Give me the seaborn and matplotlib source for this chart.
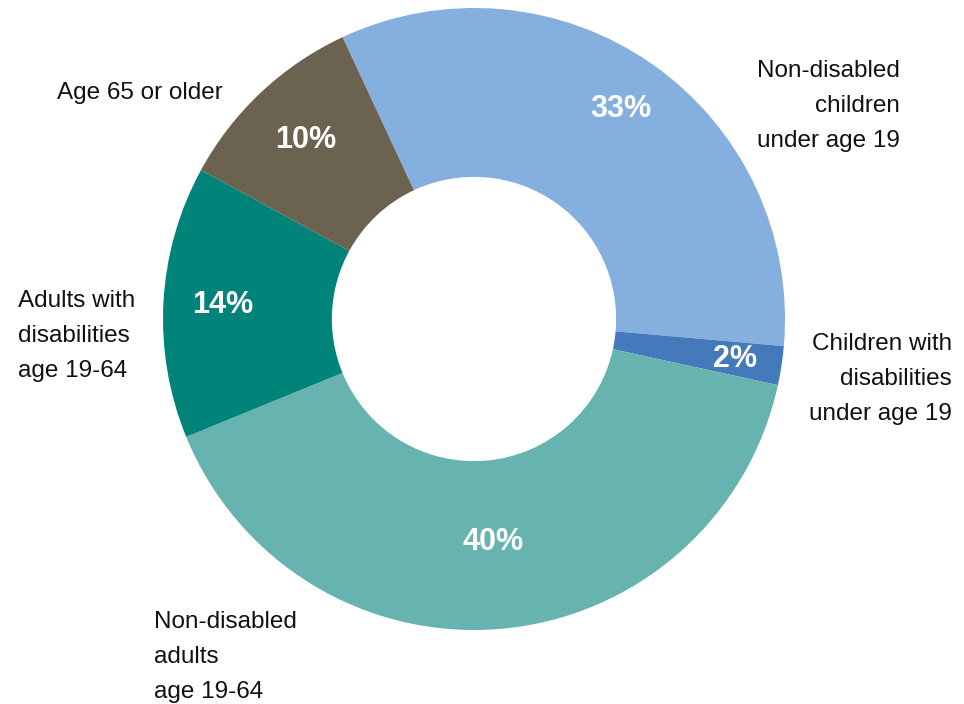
import matplotlib
matplotlib.use("Agg")
import matplotlib.pyplot as plt
from matplotlib import font_manager as fm
import seaborn as sns

# Share of enrollees by group (percent), clockwise from the top-left
groups = [
    "Non-disabled children under age 19",
    "Children with disabilities under age 19",
    "Non-disabled adults age 19-64",
    "Adults with disabilities age 19-64",
    "Age 65 or older",
]
shares = [33, 2, 40, 14, 10]
pct_labels = ["33%", "2%", "40%", "14%", "10%"]
colors = ["#84AFDE", "#4479BC", "#66B3AF", "#00847A", "#6B6250"]

# Outside captions, one list of lines per group
caption_lines = [
    ["Non-disabled", "children", "under age 19"],
    ["Children with", "disabilities", "under age 19"],
    ["Non-disabled", "adults", "age 19-64"],
    ["Adults with", "disabilities", "age 19-64"],
    ["Age 65 or older"],
]

sns.set_theme(style="white")
installed = {f.name for f in fm.fontManager.ttflist}
text_family = "Liberation Sans" if "Liberation Sans" in installed else "DejaVu Sans"
if "Liberation Sans Narrow" in installed:
    pct_family, pct_size = "Liberation Sans Narrow", 25
else:
    pct_family, pct_size = text_family, 22
plt.rcParams["font.family"] = [text_family, "DejaVu Sans"]

W, H = 964, 704
fig = plt.figure(figsize=(W / 100, H / 100), dpi=100)
fig.patch.set_facecolor("white")

# Donut centre (474, 319) px, outer radius 311 px
cx, cy, R = 474, 319, 311
ax = fig.add_axes([(cx - R) / W, (H - cy - R) / H, 2 * R / W, 2 * R / H])
wedges, _ = ax.pie(
    shares,
    colors=sns.color_palette(colors),
    startangle=115,
    counterclock=False,
    radius=1.0,
    wedgeprops=dict(width=0.543, linewidth=0),
)
ax.set_xlim(-1, 1)
ax.set_ylim(-1, 1)
ax.axis("off")

# Percent labels inside each ring segment
import numpy as np
label_radius = [0.825, 0.85, 0.72, 0.81, 0.79]
for w, lab, r in zip(wedges, pct_labels, label_radius):
    mid = np.deg2rad((w.theta1 + w.theta2) / 2)
    ax.text(r * np.cos(mid), r * np.sin(mid), lab, ha="center", va="center",
            color="white", fontsize=pct_size, fontweight="bold",
            family=[pct_family, "DejaVu Sans"])

# Captions: (x px, first baseline px, alignment)
caption_anchor = [(900, 77, "right"), (952, 350, "right"), (154, 628, "left"),
                  (18, 307, "left"), (57, 99, "left")]
line_step = 35
for lines, (x, y0, ha) in zip(caption_lines, caption_anchor):
    for i, line in enumerate(lines):
        fig.text(x / W, 1 - (y0 + i * line_step) / H, line, ha=ha, va="baseline",
                 fontsize=17.5, color="#111111")

fig.savefig("out.png", dpi=100, facecolor="white")
